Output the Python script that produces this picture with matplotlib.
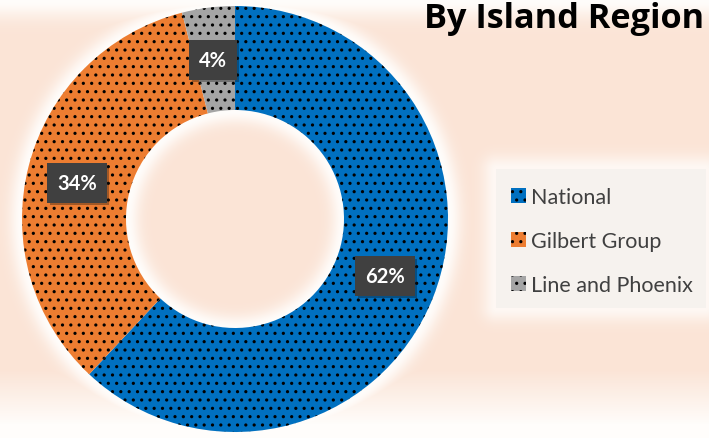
import numpy as np
import matplotlib

matplotlib.use('Agg')
import matplotlib.pyplot as plt
import matplotlib.patheffects as pe

plt.rcParams['font.family'] = ['Lato', 'DejaVu Sans']
plt.rcParams['hatch.linewidth'] = 1.1

regions = ['National', 'Gilbert Group', 'Line and Phoenix']
shares = [62, 34, 4]
share_labels = ['62%', '34%', '4%']
colors = ['#0070C0', '#ED7D31', '#A5A5A5']

W, H = 709, 439
cx, cy = 235, H - 220
R, r_in = 213, 109

# soft peach background with white glow around donut / legend
yy, xx = np.mgrid[0:H, 0:W].astype(float)
rr = np.hypot(xx - cx, yy - 220)
d_donut = np.where(rr > R, rr - R, np.where(rr < r_in, r_in - rr, 0))
glow = np.exp(-(d_donut / 13.0) ** 2)
lx0, lx1, ly0, ly1 = 496, 705, 170, 308
dx = np.maximum(np.maximum(lx0 - xx, xx - lx1), 0)
dy = np.maximum(np.maximum(ly0 - yy, yy - ly1), 0)
d_leg = np.hypot(dx, dy)
glow = np.maximum(glow, 0.8 * np.exp(-(d_leg / 14.0) ** 2))
glow = np.maximum(glow, np.exp(-(yy / 18.0) ** 2))
glow = np.maximum(glow, np.clip((yy - 370) / 55.0, 0, 1))
peach = np.array([251, 228, 214]) / 255
white = np.array([255, 253, 251]) / 255
bg = peach * (1 - glow[..., None]) + white * glow[..., None]
inside_leg = (d_leg == 0)
bg[inside_leg] = np.array([246, 242, 238]) / 255

fig = plt.figure(figsize=(W / 100, H / 100), dpi=100)
ax = fig.add_axes([0, 0, 1, 1])
ax.imshow(bg, extent=(0, W, 0, H), origin='upper', zorder=0)

wedges, _ = ax.pie(shares, colors=colors, startangle=90, counterclock=False,
                   radius=R, center=(cx, cy), hatch='..',
                   wedgeprops={'width': R - r_in, 'edgecolor': 'black', 'linewidth': 0})

label_pos = [(385, 277), (77, 184), (213, 61)]
for txt, (px, py) in zip(share_labels, label_pos):
    t = ax.text(px, H - py, txt, ha='center', va='center', color='white',
                fontsize=14.5, fontweight='bold', zorder=5,
                bbox=dict(boxstyle='square,pad=0.48', fc='#404040', ec='none'))
    t.get_bbox_patch().set_path_effects([pe.withSimplePatchShadow(offset=(2, -2), alpha=0.35)])

ax.text(424, H - 19, 'By Island Region', ha='left', va='center',
        fontsize=24.7, fontweight='bold', color='black', family='Open Sans')

leg = ax.legend(wedges, regions, loc='upper left', bbox_to_anchor=(492 / W, 1 - 169 / H),
                frameon=False, fontsize=15.5, labelspacing=1.1, handlelength=0.7,
                handleheight=0.7, handletextpad=0.2, labelcolor='#404040')

ax.set_xlim(0, W)
ax.set_ylim(0, H)
ax.set_aspect('auto')
ax.axis('off')
fig.savefig('out.png', dpi=100)
